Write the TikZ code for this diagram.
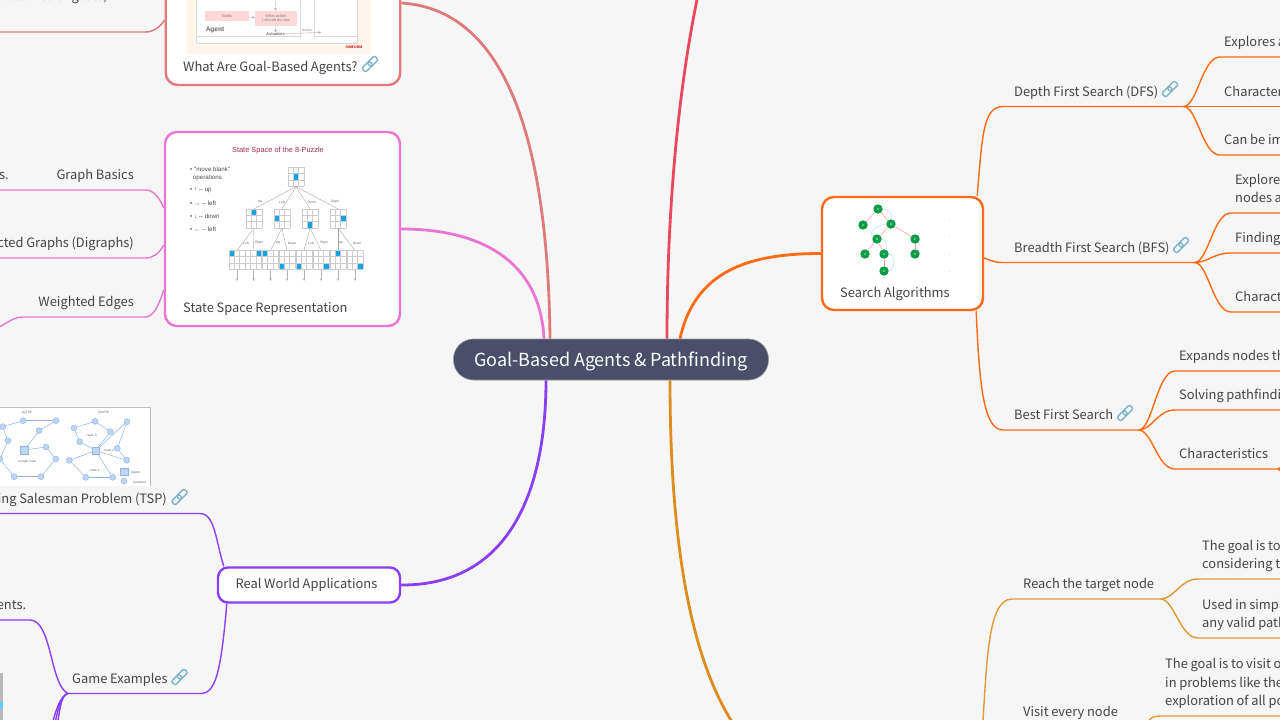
\documentclass[tikz,border=0pt]{standalone}
\usepackage{fontspec}
\setmainfont[WordSpace=0.92]{Noto Sans CJK SC}
\newfontfamily\thumbfont{Liberation Sans}
\usepackage{color}
\definecolor{bgc}{HTML}{F6F6F6}
\definecolor{hubc}{HTML}{4A4E69}
\definecolor{txtc}{HTML}{454545}
\definecolor{goalc}{HTML}{E07A7A}
\definecolor{statec}{HTML}{EB75D2}
\definecolor{purplec}{HTML}{8A3FF5}
\definecolor{redc}{HTML}{E8475C}
\definecolor{orangec}{HTML}{FF6A14}
\definecolor{amberc}{HTML}{E29A35}
\definecolor{amberhub}{HTML}{DD8C1E}
\definecolor{linkc}{HTML}{7DB4C9}
\definecolor{puzzc}{HTML}{12A5E5}
\definecolor{puzztitlec}{HTML}{A52A55}
\definecolor{tspc}{HTML}{BDD5F6}
\definecolor{tspline}{HTML}{8FB3E0}
\definecolor{greenc}{HTML}{0B9C47}
\tikzset{
  txt/.style={text=txtc,font=\fontsize{12.9}{18.6}\selectfont},
  topic/.style={txt,anchor=south west,inner xsep=11pt,inner ysep=4.4pt,text width=#1,align=flush left,execute at end node=\strut},
  ltopic/.style={txt,anchor=south east,inner xsep=11pt,inner ysep=4.4pt,text width=#1,align=flush right,execute at end node=\strut},
  leaf/.style={topic=#1,inner xsep=4pt},
  free/.style={txt,anchor=base east,inner sep=0pt},
  capt/.style={txt,anchor=base west,inner sep=0pt},
  card/.style={draw=#1,fill=white,line width=2.4pt,rounded corners=12pt,inner sep=0pt},
  main/.style={line width=2.8pt,#1},
  sub/.style={line width=1.4pt,#1},
  tiny/.style={text=gray!75!black,font=\thumbfont\fontsize{#1}{#1}\selectfont,inner sep=0pt},
  tspnode/.style={circle,fill=tspc,draw=tspline,line width=.4pt,minimum size=6pt,inner sep=0pt},
  tspdepot/.style={rectangle,fill=tspc,draw=tspline,line width=.4pt,minimum size=7.5pt,inner sep=0pt},
  gnode/.style={circle,fill=greenc,text=white,minimum size=9.4pt,inner sep=0pt,font=\thumbfont\fontsize{3}{3}\selectfont},
  linkicon/.pic={
    \draw[linkc,line width=1.4pt,rounded corners=2pt,rotate=45] (-9,-2.8) rectangle (1.5,2.8);
    \draw[linkc,line width=1.4pt,rounded corners=2pt,rotate=45] (-1.5,-2.8) rectangle (9,2.8);
  },
}
\begin{document}
\begin{tikzpicture}[x=1pt,y=-1pt]
  \useasboundingbox (0,0) rectangle (1280,720);
  \clip (0,0) rectangle (1280,720);
  \fill[bgc] (0,0) rectangle (1280,720);

  \node[draw=hubc!60!white,fill=hubc,line width=.6pt,rounded corners=20pt,minimum width=315pt,minimum height=41pt,inner sep=0pt,
    text=white,font=\fontsize{18}{22}\selectfont,text height=17pt,text depth=4pt] (hub) at (611,359.5) {Goal-Based Agents \& Pathfinding};

  \node[card=goalc,minimum width=234.5pt,minimum height=164pt] (goalcard) at (283,3) {};
  \node[card=statec,minimum width=235pt,minimum height=194pt] (statecard) at (282.5,229) {};
  \node[card=purplec,minimum width=182pt,minimum height=35pt,rounded corners=10pt,
    text=txtc,font=\fontsize{12.9}{18}\selectfont] (real) at (309,585) {\hspace*{-5pt}Real World Applications};
  \node[card=orangec,minimum width=161pt,minimum height=113pt] (search) at (902.5,253.5) {};

  \coordinate (redout) at (698,-5);
  \coordinate (amberout) at (734,725);
  \draw[main=goalc] ([xshift=-61pt]hub.north) .. controls (548,150) and (510,10) .. (goalcard.east);
  \draw[main=statec] ([xshift=-67pt]hub.north) .. controls (540,260) and (480,229) .. (statecard.east);
  \draw[main=purplec] ([xshift=-65pt]hub.south) .. controls (546,490) and (510,585.5) .. (real.east);
  \draw[main=redc] ([xshift=56pt]hub.north) .. controls (667,200) and (680,80) .. (redout);
  \draw[main=orangec] ([xshift=69pt]hub.north) .. controls (695,270) and (750,253.5) .. (search.west);
  \draw[main=amberhub] ([xshift=59pt]hub.south) .. controls (670,520) and (685,650) .. (amberout);

  % goal card
  \fill[orange!8] (187,-5) rectangle (371,54);
  \draw[gray!30,fill=white,line width=.5pt] (196,-5) rectangle (357,43);
  \draw[gray!30,line width=.5pt] (196,-5) rectangle (300,36.5) (314,-5) rectangle (357,36.5);
  \node[fill=red!15,tiny=4,text=gray,minimum width=44pt,minimum height=10pt] (goals) at (227,16) {Goals};
  \node[fill=red!15,tiny=4,text=gray,minimum width=42pt,minimum height=15pt,align=center] (whatact) at (276,18.5) {What action\\I should do now};
  \node[tiny=6.5,text=gray!80!black,font=\thumbfont\fontsize{6.5}{7}\selectfont\bfseries] (agentlbl) at (215,30) {Agent};
  \node[tiny=4,text=gray!80!black,font=\thumbfont\fontsize{4}{4}\selectfont\bfseries] (actuators) at (275.5,34) {Actuators};
  \node[tiny=3.5,text=gray] (actionlbl) at (307,30) {Action};
  \node[tiny=3.5,text=red!80!black,font=\thumbfont\fontsize{3.5}{4}\selectfont\bfseries] (simform) at (354,47.5) {SIMFORM};
  \coordinate (senstop) at (275,-5);
  \coordinate (actionend) at (321,32.5);
  \draw[->,>=stealth,gray!70,line width=.3pt] (senstop) -- (whatact);
  \draw[->,>=stealth,gray!70,line width=.3pt] (goals) -- (whatact);
  \draw[->,>=stealth,gray!70,line width=.3pt] (whatact) -- (actuators);
  \draw[->,>=stealth,gray!70,line width=.3pt] (actuators) -- (actionend);
  \node[capt] (goaltxt) at (183,71) {What Are Goal-Based Agents?};
  \pic at (370,64) {linkicon};

  \coordinate (goalleaf) at (145,32);
  \coordinate (goalleft) at (-5,32);
  \node[free] (outcomes) at (107,1) {utcomes or goals,};
  \draw[sub=goalc] ([yshift=-17pt]goalcard.west) .. controls +(-5,8) and +(8,0) .. (goalleaf) -- (goalleft);

  % state space card
  \node[tiny=7.4,text=puzztitlec] (puzztitle) at (278,151) {State Space of the 8-Puzzle};
  \foreach \n/\y/\s in {0/169/{• "move blank"},1/178/{\ \,operations},2/190.5/{• ↑ -- up},3/203/{• → -- left},4/216/{• ↓ -- down},5/229/{• ← -- left}}
    \node[tiny=6.2,anchor=west,text=gray!60!black] (leg\n) at (190,\y) {\s};
  \foreach \n/\x/\y/\cl/\rw in {r/296/177/1/1,
      a/254/218.5/1/0,b/282/218.5/0/1,c/310/218.5/1/2,d/338/218.5/2/1,
      e/237/260/0/0,f/253.5/260/2/0,g/270.5/260/0/0,h/287/260/0/2,i/304/260/0/2,j/321/260/2/2,k/338/260/1/0,l/355/260/2/2}{
    \node[minimum width=16pt,minimum height=19pt,inner sep=0pt] (b\n) at (\x,\y) {};
    \fill[puzzc,shift={(b\n.north west)}] (\cl*5.33,\rw*6.33) rectangle ++(5.33,6.33);
    \foreach \i in {0,1,2,3}{
      \draw[gray!40,line width=.4pt,shift={(b\n.north west)}] (\i*5.33,0) -- (\i*5.33,19);
      \draw[gray!40,line width=.4pt,shift={(b\n.north west)}] (0,\i*6.33) -- (16,\i*6.33);
    }
  }
  \foreach \p/\q in {r/a,r/b,r/c,r/d,a/e,a/f,b/g,b/h,c/i,c/j,d/k,d/l}
    \draw[gray!70,line width=.4pt] (b\p.south) -- (b\q.north);
  \foreach \q/\x in {e/237,f/253.5,g/270.5,h/287,i/304,j/321,k/338,l/355}{
    \coordinate (e\q) at (\x,281);
    \draw[->,>=stealth,gray!60,line width=.25pt] (b\q.south) -- (e\q);
  }
  \foreach \n/\x/\y/\s in {1/260/202/Up,2/282/202/Left,3/312/202/Down,4/335/202/Right,
      5/246/243/Left,6/259/243/Right,7/278/243/Up,8/292/243/Down,9/311/243/Left,10/324/243/Right,11/341/243/Up,12/357/243/Down}
    \node[tiny=3.2] (mv\n) at (\x,\y) {\s};
  \node[capt] (statetxt) at (183,312) {State Space Representation};

  \node[ltopic=128pt] (basics) at (145,190) {Graph Basics};
  \node[ltopic=160pt] (digraphs) at (145,258) {cted Graphs (Digraphs)};
  \node[ltopic=100pt] (weighted) at (145,317) {Weighted Edges};
  \node[free] (sdot) at (9,179) {s.};
  \coordinate (weightout) at (-5,329);
  \draw[sub=statec] ([yshift=21pt]statecard.west) .. controls +(-5,-12) and +(8,0) .. (basics.south east) -- (basics.south west);
  \draw[sub=statec] ([yshift=-16pt]statecard.west) .. controls +(-5,9) and +(8,0) .. (digraphs.south east) -- (digraphs.south west);
  \draw[sub=statec] ([yshift=-61pt]statecard.west) .. controls +(-6,18) and +(8,0) .. (weighted.south east) -- (weighted.south west) .. controls +(-10,0) and +(10,-4) .. (weightout);

  % real world
  \fill[white] (-5,407) rectangle (150,486);
  \draw[gray!50,line width=.5pt] (-5,407) -- (150,407) -- (150,486);
  \foreach \n/\x/\y in {1/2.7/426.7,2/23/420.7,3/56/420.7,4/39/430.7,5/8/440.7,6/46/447,7/55.7/459,8/41/476.7,9/14/476.7,10/0/459,
      11/74/428,12/95/421.3,13/127/421.7,14/110.3/431.7,15/79.7/441.7,16/117.3/448.3,17/126.7/460.3,18/69.3/460.3,19/85.7/477.3,20/112.7/477.3,21/124/481}
    \node[tspnode] (t\n) at (\x,\y) {};
  \node[tspdepot] (sqa) at (24.3,450) {};
  \node[tspdepot] (sqb) at (95.7,450.7) {};
  \node[tspdepot] (sqc) at (124,471.7) {};
  \foreach \p/\q in {t1/t2,t2/t3,t3/t4,t4/sqa,sqa/t6,t6/t7,t7/t8,t8/t9,t9/t10,t10/t5,t5/t1,
      sqb/t15,t15/t11,t11/t12,t12/t14,t14/sqb,sqb/t13,t13/t16,t16/t17,t17/sqb,sqb/t18,t18/t19,t19/t20,t20/sqb}
    \draw[tspline,line width=.5pt] (\p) -- (\q);
  \node[fill=white,tiny=3,minimum width=35pt,minimum height=9pt] (single) at (27,462) {a single route};
  \foreach \n/\x/\y/\s in {1/27/413/(a)TSP,2/103.7/413/(b)VRP,3/91.7/435/route 3,4/109/450/route 2,5/94.7/470/route 1,6/135.7/472.7/depot,7/139.5/482/customer}
    \node[tiny=3.2] (tl\n) at (\x,\y) {\s};

  \node[ltopic=220pt,inner xsep=33pt] (tsp) at (200,513.5) {ing Salesman Problem (TSP)};
  \pic at (179.5,497) {linkicon};
  \node[leaf=124pt] (game) at (68,693.5) {Game Examples};
  \pic at (179.5,677) {linkicon};
  \node[ltopic=28pt,inner xsep=5pt] (entsleaf) at (30,620) {ents.};
  \draw[sub=purplec] ([xshift=7pt]real.north west) .. controls +(-8,-25) and +(15,0) .. (tsp.south east) -- (tsp.south west);
  \draw[sub=purplec] ([xshift=10pt]real.south west) .. controls +(-6,70) and +(15,0) .. (game.south east) -- (game.south west);
  \draw[sub=purplec] (game.south west) .. controls +(-18,-8) and +(22,0) .. (entsleaf.south east) -- (entsleaf.south west);
  \foreach \n/\x in {1/52,2/54.5,3/57}{
    \coordinate (gamedown\n) at (\x,725);
    \draw[sub=purplec] (game.south west) .. controls +(-8,2) and +(3,-12) .. (gamedown\n);
  }
  \fill[gray!55] (0,673) rectangle (3,720);
  \fill[blue!35!cyan!60] (0,702) rectangle (3,709);

  % search card
  \foreach \n/\s/\x/\y in {s1/S/878/209,a1/A/863/225,d1/D/891/224,b1/B/877/239,e1/E/915/239,c1/C/865/254,g1/G/884/254,h1/H/915/254,g2/G/884/271}
    \node[gnode] (\n) at (\x,\y) {\s};
  \foreach \p/\q in {s1/a1,s1/d1,d1/b1,d1/e1,b1/c1,b1/g1,e1/h1,g1/g2}
    \draw[red!40,line width=.5pt] (\p) -- (\q);
  \draw[cyan!35,line width=.5pt] (s1) to[out=0,in=80] (d1);
  \draw[cyan!35,line width=.5pt] (d1) to[out=180,in=150] (b1);
  \draw[cyan!35,line width=.5pt] (b1) to[out=0,in=70] (g1);
  \draw[cyan!35,line width=.5pt] (g1) to[out=0,in=0] (g2);
  \foreach \n/\y in {1/219,2/236,3/254,4/271}{
    \node[fill=gray!30,minimum size=1pt,inner sep=0pt] (sd\n) at (949,\y) {};
  }
  \node[capt] (searchtxt) at (840,297) {Search Algorithms};

  \node[topic=158pt] (dfs) at (1003,106.5) {Depth First Search (DFS)};
  \pic at (1170,89) {linkicon};
  \node[topic=169pt] (bfs) at (1003,262.5) {Breadth First Search (BFS)};
  \pic at (1181,245) {linkicon};
  \node[topic=113pt] (best) at (1003,430) {Best First Search};
  \pic at (1125,413) {linkicon};
  \draw[sub=orangec] ([xshift=-7pt]search.north east) .. controls +(5,-60) and +(-20,0) .. (dfs.south west) -- (dfs.south east);
  \draw[sub=orangec] ([yshift=-4.5pt]search.east) .. controls +(6,2) and +(-10,0) .. (bfs.south west) -- (bfs.south east);
  \draw[sub=orangec] ([xshift=-8pt]search.south east) .. controls +(3,70) and +(-20,0) .. (best.south west) -- (best.south east);

  \foreach \n/\from/\x/\y/\w/\s in {la/dfs/1220/57/100/{Explores a},lb/dfs/1220/106.5/100/{Character},lc/dfs/1220/155/100/{Can be im},
      ld/bfs/1231/213/100/{Explore\\nodes a},le/bfs/1231/253/100/{Finding},lf/bfs/1231/312/100/{Charact},
      lg/best/1175/371/150/{Expands nodes th},lh/best/1175/410/150/{Solving pathfindi},li/best/1175/469/94/{Characteristics}}{
    \node[leaf=\w pt] (\n) at (\x,\y) {\s};
    \draw[sub=orangec] (\from.south east) .. controls +(14,0) and +(-18,0) .. (\n.south west) -- (\n.south east);
  }
  \coordinate (forkup) at (1290,461);
  \coordinate (forkdown) at (1290,477);
  \draw[sub=orangec] (li.south east) .. controls +(4,0) and +(-6,0) .. (forkup);
  \draw[sub=orangec] (li.south east) .. controls +(4,0) and +(-6,0) .. (forkdown);

  % amber part
  \node[topic=126pt] (reach) at (1012,599) {\mbox{Reach the target node}};
  \node[topic=105pt] (visit) at (1012,726.5) {Visit every node};
  \coordinate (reachin) at (982,735);
  \draw[sub=amberc] (reachin) .. controls +(5,-70) and +(-25,0) .. (reach.south west) -- (reach.south east);
  \foreach \n/\from/\x/\y/\s in {ma/reach/1198/579/{The goal is to\\considering t},mb/reach/1198/638/{Used in simpl\\any valid path},
      mc/visit/1161/716/{The goal is to visit o\\in problems like the\\exploration of all po}}{
    \node[leaf=150pt] (\n) at (\x,\y) {\s};
    \draw[sub=amberc] (\from.south east) .. controls +(14,0) and +(-18,0) .. (\n.south west) -- (\n.south east);
  }
\end{tikzpicture}
\end{document}
